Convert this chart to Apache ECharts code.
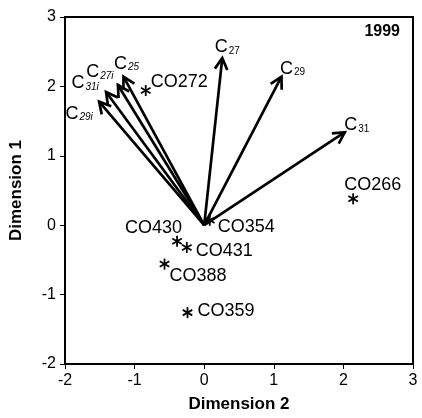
<!DOCTYPE html>
<html>
<head>
<meta charset="utf-8">
<script src="https://cdn.jsdelivr.net/npm/echarts@6/dist/echarts.min.js"></script>
<style>
  html, body { margin: 0; padding: 0; background: #fff; }
  #main { width: 422px; height: 418px; }
</style>
</head>
<body>
<div id="main"></div>
<script>
// 变量 (arrows)
var varSubs = ['25', '27i', '31i', '29i', '27', '29', '31'];
var varX = [-1.16, -1.24, -1.41, -1.51, 0.26, 1.11, 2.02];
var varY = [2.14, 2.02, 1.92, 1.78, 2.41, 2.14, 1.34];
// label offsets in px (layout only)
var varLabelOffset = [[3, -14], [-18, -14], [-21, -10], [-20, 11], [5, -12], [11, -9], [12, -8]];

// 样点 (asterisks)
var siteNames = ['CO272', 'CO266', 'CO354', 'CO430', 'CO431', 'CO388', 'CO359'];
var siteX = [-0.84, 2.14, 0.08, -0.39, -0.25, -0.57, -0.24];
var siteY = [1.94, 0.38, 0.07, -0.23, -0.32, -0.56, -1.26];
var siteLabelOffset = [[5, -9], [-9, -14], [8, 7], [5, -13], [9, 4], [5, 12], [10, -2]];
var siteLabelAlign = ['left', 'left', 'left', 'right', 'left', 'left', 'left'];

var xTicks = [-2, -1, 0, 1, 2, 3];
var yTicks = [-2, -1, 0, 1, 2, 3];

var FONT = '"Liberation Sans", Arial, sans-serif';

var myChart = echarts.init(document.getElementById('main'));

var arrowData = varX.map(function (x, i) { return [x, varY[i], i]; });
var siteData = siteX.map(function (x, i) { return [x, siteY[i], i]; });

function renderArrow(params, api) {
    var i = api.value(2);
    var o = api.coord([0, 0]);
    var t = api.coord([api.value(0), api.value(1)]);
    var ang = Math.atan2(t[1] - o[1], t[0] - o[0]);
    var len = 13, spread = 0.5;
    var h1 = [t[0] - len * Math.cos(ang - spread), t[1] - len * Math.sin(ang - spread)];
    var h2 = [t[0] - len * Math.cos(ang + spread), t[1] - len * Math.sin(ang + spread)];
    var lineStyle = { stroke: '#000', lineWidth: 2.7, fill: null, lineJoin: 'miter' };
    var italic = i < 4;
    var off = varLabelOffset[i];
    return {
        type: 'group',
        children: [
            { type: 'line', shape: { x1: o[0], y1: o[1], x2: t[0], y2: t[1] }, style: lineStyle },
            { type: 'polyline', shape: { points: [h1, t, h2] }, style: lineStyle },
            {
                type: 'text',
                x: t[0] + off[0],
                y: t[1] + off[1],
                style: {
                    text: '{c|C}{s|' + varSubs[i] + '}',
                    align: 'center',
                    verticalAlign: 'middle',
                    rich: {
                        c: { fontSize: 18, fontFamily: FONT, fill: '#000', lineHeight: 20, verticalAlign: 'bottom' },
                        s: { fontSize: 10, fontFamily: FONT, fontStyle: italic ? 'italic' : 'normal', fill: '#000', lineHeight: 20, verticalAlign: 'bottom', padding: [10, 0, 0, 1] }
                    }
                }
            }
        ]
    };
}

function renderSite(params, api) {
    var i = api.value(2);
    var p = api.coord([api.value(0), api.value(1)]);
    var r = 5.5;
    var children = [];
    [90, 30, 150].forEach(function (deg) {
        var a = deg * Math.PI / 180;
        children.push({
            type: 'line',
            shape: { x1: p[0] - r * Math.cos(a), y1: p[1] - r * Math.sin(a), x2: p[0] + r * Math.cos(a), y2: p[1] + r * Math.sin(a) },
            style: { stroke: '#000', lineWidth: 1.8 }
        });
    });
    var off = siteLabelOffset[i];
    children.push({
        type: 'text',
        x: p[0] + off[0],
        y: p[1] + off[1],
        style: {
            text: siteNames[i],
            fill: '#000',
            fontSize: 18,
            fontFamily: FONT,
            align: siteLabelAlign[i],
            verticalAlign: 'middle'
        }
    });
    return { type: 'group', children: children };
}

var option = {
    animation: false,
    backgroundColor: '#fff',
    title: {
        text: '1999',
        right: 17,
        top: 19,
        textStyle: { fontSize: 16, fontWeight: 'bold', fontFamily: FONT, color: '#000' }
    },
    grid: {
        left: 63, right: 9, top: 17, bottom: 51,
        show: true, borderColor: '#000', borderWidth: 2
    },
    xAxis: {
        type: 'value',
        min: xTicks[0], max: xTicks[xTicks.length - 1], interval: 1,
        name: 'Dimension 2',
        nameLocation: 'middle',
        nameGap: 32,
        nameTextStyle: { fontSize: 17, fontWeight: 'bold', fontFamily: FONT, color: '#000' },
        axisLine: { onZero: false, lineStyle: { color: '#000', width: 2 } },
        axisTick: { show: true, inside: false, length: 5, lineStyle: { color: '#000', width: 1 } },
        axisLabel: { fontSize: 16, fontFamily: FONT, color: '#000', margin: 9 },
        splitLine: { show: false }
    },
    yAxis: {
        type: 'value',
        min: yTicks[0], max: yTicks[yTicks.length - 1], interval: 1,
        name: 'Dimension 1',
        nameLocation: 'middle',
        nameGap: 40,
        nameTextStyle: { fontSize: 17, fontWeight: 'bold', fontFamily: FONT, color: '#000' },
        axisLine: { onZero: false, lineStyle: { color: '#000', width: 2 } },
        axisTick: { show: true, inside: false, length: 5, lineStyle: { color: '#000', width: 1 } },
        axisLabel: { fontSize: 16, fontFamily: FONT, color: '#000', margin: 9 },
        splitLine: { show: false }
    },
    series: [
        {
            type: 'custom',
            name: 'vectors',
            renderItem: renderArrow,
            data: arrowData,
            clip: false
        },
        {
            type: 'custom',
            name: 'sites',
            renderItem: renderSite,
            data: siteData,
            clip: false
        }
    ]
};
myChart.setOption(option);
</script>
</body>
</html>
